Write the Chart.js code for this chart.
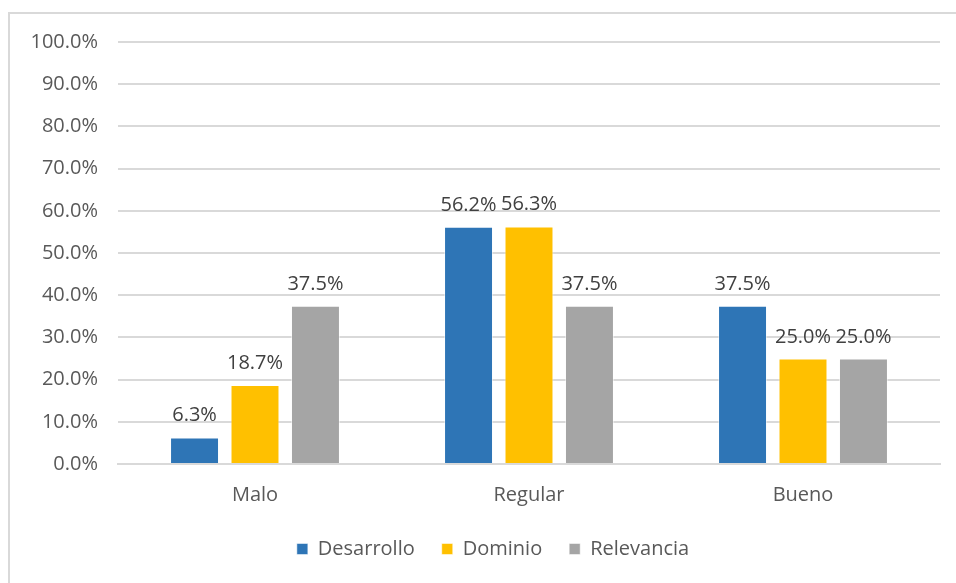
<!DOCTYPE html>
<html>
<head>
<meta charset="utf-8">
<script src="https://cdn.jsdelivr.net/npm/chart.js@4"></script>
<style>
  html, body { margin: 0; padding: 0; background: #fff; }
  #frame { position: absolute; left: 8px; top: 12px; width: 960px; height: 600px;
           border-left: 2px solid #d9d9d9; border-top: 2px solid #d9d9d9; }
  #wrap { position: absolute; left: 0; top: 0; width: 956px; height: 583px; }
</style>
</head>
<body>
<div id="frame"></div>
<div id="wrap"><canvas id="grafico"></canvas></div>
<script>
const categorias = ['Malo', 'Regular', 'Bueno'];
const desarrollo = [6.3, 56.2, 37.5];
const dominio = [18.7, 56.3, 25.0];
const relevancia = [37.5, 37.5, 25.0];

const fuente = "'Open Sans', 'Liberation Sans', sans-serif";

// etiquetas encima de cada barra
const etiquetas = {
    id: 'etiquetas',
    afterLayout(chart) {
        // la leyenda va un poco a la derecha, como en el original
        chart.legend.left += 23;
        chart.legend.right += 23;
    },
    afterDatasetsDraw(chart) {
        const ctx = chart.ctx;
        ctx.save();
        ctx.font = '20px ' + fuente;
        ctx.fillStyle = '#404040';
        ctx.textAlign = 'center';
        ctx.textBaseline = 'alphabetic';
        chart.data.datasets.forEach((ds, i) => {
            chart.getDatasetMeta(i).data.forEach((bar, j) => {
                ctx.fillText(ds.data[j].toFixed(1) + '%', bar.x, bar.y - 16);
            });
        });
        ctx.restore();
    }
};

const ctx = document.getElementById('grafico').getContext('2d');
const grafico = new Chart(ctx, {
    type: 'bar',
    data: {
        labels: categorias,
        datasets: [
            { label: 'Desarrollo', data: desarrollo, backgroundColor: '#2e75b6' },
            { label: 'Dominio', data: dominio, backgroundColor: '#ffc000' },
            { label: 'Relevancia', data: relevancia, backgroundColor: '#a5a5a5' }
        ]
    },
    options: {
        responsive: true,
        maintainAspectRatio: false,
        animation: false,
        datasets: {
            bar: {
                categoryPercentage: 0.662,
                barPercentage: 0.81,
                borderWidth: 1,
                borderColor: 'rgba(255,255,255,0.5)'
            }
        },
        layout: { padding: { left: 0, right: 16, top: 42, bottom: 14 } },
        scales: {
            x: {
                grid: { display: false },
                border: { color: '#d9d9d9', width: 2 },
                ticks: { color: '#595959', font: { family: fuente, size: 20 }, padding: 11 },
                afterFit(s) { s.height = 48; }
            },
            y: {
                min: 0,
                max: 100,
                ticks: {
                    stepSize: 10,
                    color: '#595959',
                    font: { family: fuente, size: 20 },
                    padding: 20,
                    callback: v => v.toFixed(1) + '%'
                },
                grid: { color: '#d9d9d9', lineWidth: 2, drawTicks: false },
                border: { display: false },
                afterFit(s) { s.width = 118; }
            }
        },
        plugins: {
            legend: {
                position: 'bottom',
                labels: {
                    color: '#595959',
                    font: { family: fuente, size: 20 },
                    boxWidth: 11,
                    boxHeight: 11,
                    padding: 27
                }
            },
            tooltip: { enabled: false }
        }
    },
    plugins: [etiquetas]
});
</script>
</body>
</html>
